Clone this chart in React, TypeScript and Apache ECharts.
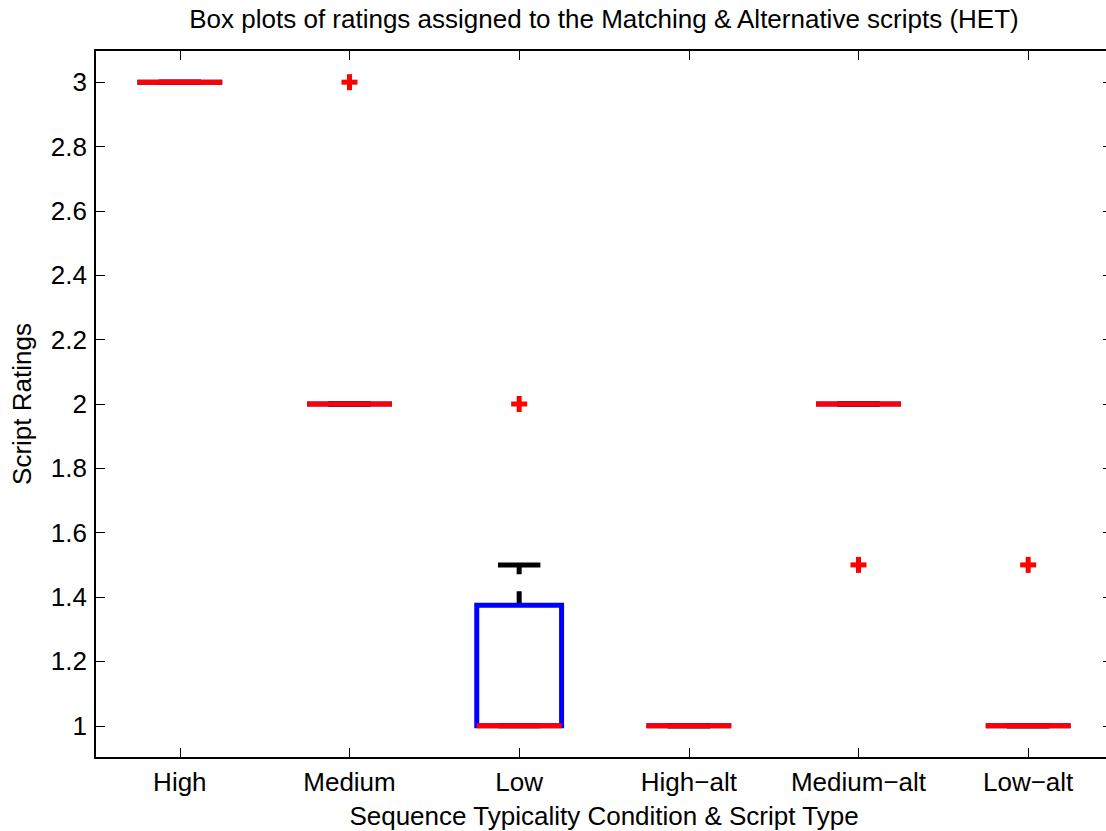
import React, { useEffect, useRef } from "react";
import * as echarts from "echarts";

// ---- data ----
const categories = ["High", "Medium", "Low", "High\u2212alt", "Medium\u2212alt", "Low\u2212alt"];
const lowerWhisker = [3, 2, 1, 1, 2, 1];
const q1 = [3, 2, 1, 1, 2, 1];
const median = [3, 2, 1, 1, 2, 1];
const q3 = [3, 2, 1.375, 1, 2, 1];
const upperWhisker = [3, 2, 1.5, 1, 2, 1];
// [category index, value]
const outliers: [number, number][] = [
  [1, 3],
  [2, 2],
  [4, 1.5],
  [5, 1.5],
];
const yTicks = [1, 1.2, 1.4, 1.6, 1.8, 2, 2.2, 2.4, 2.6, 2.8, 3];

const titleText = "Box plots of ratings assigned to the Matching & Alternative scripts (HET)";
const xName = "Sequence Typicality Condition & Script Type";
const yName = "Script Ratings";

const FONT = '"Liberation Sans", Arial, Helvetica, sans-serif';

export default function App() {
  const ref = useRef<HTMLDivElement>(null);

  useEffect(() => {
    if (!ref.current) return;
    const chart = echarts.init(ref.current, undefined, { renderer: "svg" });

    const boxData = categories.map((_, i) => [
      i,
      lowerWhisker[i],
      q1[i],
      median[i],
      q3[i],
      upperWhisker[i],
    ]);

    const tickCommon = {
      show: true,
      inside: true,
      length: 10,
      lineStyle: { color: "#000", width: 1 },
    };

    const option: any = {
      animation: false,
      backgroundColor: "#fff",
      textStyle: { fontFamily: FONT },
      grid: {
        left: 95,
        top: 50,
        right: -7,
        bottom: 73,
        containLabel: false,
        outerBoundsMode: "none",
      },
      graphic: [
        {
          type: "text",
          x: 604,
          y: 6,
          style: {
            text: titleText,
            fill: "#000",
            font: `26px ${FONT}`,
            textAlign: "center",
            textVerticalAlign: "top",
          },
        },
      ],
      xAxis: [
        {
          type: "category",
          data: categories,
          position: "bottom",
          boundaryGap: true,
          axisLine: { show: true, lineStyle: { color: "#000", width: 2 } },
          axisTick: { ...tickCommon, alignWithLabel: true, interval: 0 },
          axisLabel: { color: "#000", fontSize: 26, fontFamily: FONT, margin: 11, interval: 0 },
          splitLine: { show: false },
          name: xName,
          nameLocation: "middle",
          nameGap: 45,
          nameTextStyle: { color: "#000", fontSize: 26, fontFamily: FONT, verticalAlign: "top" },
        },
        {
          type: "category",
          data: categories,
          position: "top",
          boundaryGap: true,
          axisLine: { show: true, lineStyle: { color: "#000", width: 2 } },
          axisTick: { ...tickCommon, alignWithLabel: true, interval: 0 },
          axisLabel: { show: false },
          splitLine: { show: false },
        },
      ],
      yAxis: [
        {
          type: "value",
          min: 0.9,
          max: 3.1,
          position: "left",
          axisLine: { show: true, lineStyle: { color: "#000", width: 2 } },
          axisTick: { ...tickCommon, customValues: yTicks },
          axisLabel: {
            color: "#000",
            fontSize: 26,
            fontFamily: FONT,
            margin: 8,
            customValues: yTicks,
            formatter: (v: number) => String(Math.round(v * 10) / 10),
          },
          splitLine: { show: false },
          name: yName,
          nameLocation: "middle",
          nameRotate: 90,
          nameGap: 60,
          nameTextStyle: { color: "#000", fontSize: 26, fontFamily: FONT },
        },
        {
          type: "value",
          min: 0.9,
          max: 3.1,
          position: "right",
          axisLine: { show: true, lineStyle: { color: "#000", width: 2 } },
          axisTick: { ...tickCommon, customValues: yTicks },
          axisLabel: { show: false, customValues: yTicks },
          splitLine: { show: false },
        },
      ],
      series: [
        {
          type: "custom",
          xAxisIndex: 0,
          yAxisIndex: 0,
          data: boxData,
          encode: { x: 0, y: [1, 2, 3, 4, 5] },
          clip: false,
          renderItem: (params: any, api: any) => {
            const i = api.value(0);
            const lw = api.value(1);
            const a = api.value(2);
            const m = api.value(3);
            const b = api.value(4);
            const uw = api.value(5);
            const band = api.size([1, 0])[0];
            const half = band * 0.25;
            const cap = band * 0.125;
            const x = api.coord([i, m])[0];
            const yLw = api.coord([i, lw])[1];
            const yA = api.coord([i, a])[1];
            const yM = api.coord([i, m])[1];
            const yB = api.coord([i, b])[1];
            const yUw = api.coord([i, uw])[1];
            const children: any[] = [];
            const whiskerStyle = { stroke: "#000", lineWidth: 5, lineDash: [14, 17] };
            if (uw !== b) {
              children.push({
                type: "line",
                shape: { x1: x, y1: yB, x2: x, y2: yUw },
                style: whiskerStyle,
              });
            }
            if (lw !== a) {
              children.push({
                type: "line",
                shape: { x1: x, y1: yA, x2: x, y2: yLw },
                style: whiskerStyle,
              });
            }
            children.push({
              type: "line",
              shape: { x1: x - cap, y1: yUw, x2: x + cap, y2: yUw },
              style: { stroke: "#000", lineWidth: 5 },
            });
            children.push({
              type: "line",
              shape: { x1: x - cap, y1: yLw, x2: x + cap, y2: yLw },
              style: { stroke: "#000", lineWidth: 5 },
            });
            children.push({
              type: "polygon",
              shape: {
                points: [
                  [x - half, yA],
                  [x - half, yB],
                  [x + half, yB],
                  [x + half, yA],
                ],
              },
              style: { stroke: "#0000ff", lineWidth: 5, fill: "none" },
            });
            children.push({
              type: "line",
              shape: { x1: x - half, y1: yM, x2: x + half, y2: yM },
              style: { stroke: "#ff0000", lineWidth: 5 },
            });
            return { type: "group", children };
          },
          z: 2,
        },
        {
          type: "custom",
          xAxisIndex: 0,
          yAxisIndex: 0,
          data: outliers,
          encode: { x: 0, y: 1 },
          clip: false,
          renderItem: (params: any, api: any) => {
            const p = api.coord([api.value(0), api.value(1)]);
            const s = 8;
            return {
              type: "group",
              children: [
                {
                  type: "line",
                  shape: { x1: p[0] - s, y1: p[1], x2: p[0] + s, y2: p[1] },
                  style: { stroke: "#ff0000", lineWidth: 5 },
                },
                {
                  type: "line",
                  shape: { x1: p[0], y1: p[1] - s, x2: p[0], y2: p[1] + s },
                  style: { stroke: "#ff0000", lineWidth: 5 },
                },
              ],
            };
          },
          z: 3,
        },
      ],
    };

    chart.setOption(option);
    return () => chart.dispose();
  }, []);

  return (
    <div
      ref={ref}
      style={{ position: "absolute", left: 0, top: 0, width: 1106, height: 831, background: "#fff" }}
    />
  );
}
